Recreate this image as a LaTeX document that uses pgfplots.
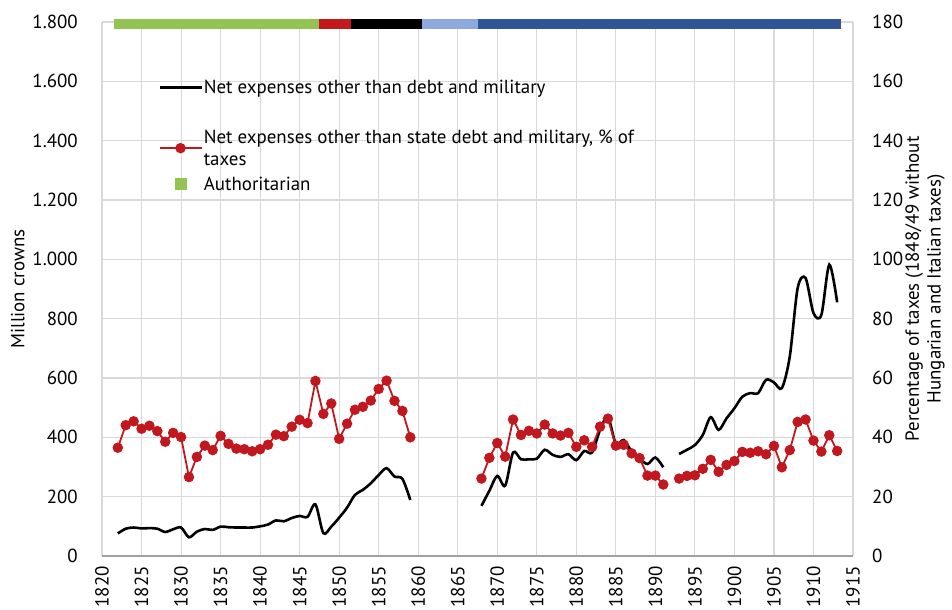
\documentclass[border=0pt]{standalone}
\usepackage{pgfplots}
\pgfplotsset{compat=1.18}
\usepackage{fontspec}
\setmainfont{PT Sans}

\definecolor{gridgray}{HTML}{D9D9D9}
\definecolor{axisgray}{HTML}{A0A0A0}
\definecolor{serred}{HTML}{C0181E}
\definecolor{autgreen}{HTML}{92C353}
\definecolor{barred}{HTML}{C3191C}
\definecolor{lblue}{HTML}{8EA9DB}
\definecolor{dblue}{HTML}{2F5597}

\newcommand\chartfont{\fontsize{19}{22}\selectfont}

\pgfplotsset{
  every axis/.append style={
    scale only axis, width=751bp, height=534bp,
    xmin=1820, xmax=1915,
    major tick length=0pt,
    /pgf/number format/assume math mode=true,
    tick label style={font=\chartfont},
    label style={font=\chartfont},
    unbounded coords=jump,
  },
}

\begin{document}
\begin{tikzpicture}

% left axis: million crowns
\begin{axis}[
  ymin=0, ymax=1800,
  ytick={0,200,...,1800},
  xtick={1820,1825,...,1915},
  grid=major,
  grid style={gridgray, line width=1.1bp},
  axis x line*=bottom, axis y line*=left,
  x axis line style={axisgray, line width=2bp, -},
  y axis line style={draw=none},
  x tick label style={rotate=90, anchor=east, inner xsep=10bp,
    /pgf/number format/1000 sep={}},
  y tick label style={inner xsep=24bp, /pgf/number format/1000 sep={.}},
  ylabel={Million crowns},
  ylabel style={at={(axis description cs:-0.112,0.5)}, anchor=center},
  clip=false,
]
% regime bar on top
\addplot[draw=none, fill=autgreen, forget plot] coordinates {(1821.5,1775) (1847.5,1775) (1847.5,1811) (1821.5,1811)};
\addplot[draw=none, fill=barred, forget plot] coordinates {(1847.5,1775) (1851.5,1775) (1851.5,1811) (1847.5,1811)};
\addplot[draw=none, fill=black, forget plot] coordinates {(1851.5,1775) (1860.5,1775) (1860.5,1811) (1851.5,1811)};
\addplot[draw=none, fill=lblue, forget plot] coordinates {(1860.5,1775) (1867.5,1775) (1867.5,1811) (1860.5,1811)};
\addplot[draw=none, fill=dblue, forget plot] coordinates {(1867.5,1775) (1913.5,1775) (1913.5,1811) (1867.5,1811)};

% net expenses, million crowns
\addplot[black, line width=2.6bp, smooth, tension=0.5] coordinates {
(1822,76) (1823,92) (1824,96) (1825,93) (1826,94) (1827,92) (1828,81) (1829,90)
(1830,96) (1831,63) (1832,82) (1833,91) (1834,88) (1835,99) (1836,97) (1837,96)
(1838,96) (1839,96) (1840,100) (1841,106) (1842,120) (1843,117) (1844,128)
(1845,135) (1846,132) (1847,174) (1848,77) (1849,99) (1850,129) (1851,163)
(1852,206) (1853,223) (1854,245) (1855,273) (1856,296) (1857,268) (1858,260)
(1859,189) (1860,nan)
(1868,169) (1869,220) (1870,270) (1871,237) (1872,349) (1873,326) (1874,326)
(1875,328) (1876,358) (1877,341) (1878,334) (1879,343) (1880,323) (1881,354)
(1882,349) (1883,425) (1884,468) (1885,378) (1886,391) (1887,352) (1888,329)
(1889,310) (1890,332) (1891,299) (1892,nan)
(1893,344) (1894,358) (1895,374) (1896,408) (1897,468) (1898,425) (1899,464)
(1900,498) (1901,537) (1902,549) (1903,549) (1904,594) (1905,585) (1906,566)
(1907,672) (1908,903) (1909,937) (1910,819) (1911,813) (1912,982) (1913,855)
};
\end{axis}

% right axis: percentage of taxes
\begin{axis}[
  ymin=0, ymax=180,
  ytick={0,20,...,180},
  axis y line*=right, axis x line=none,
  y axis line style={draw=none},
  y tick label style={inner xsep=19bp},
  ylabel={Percentage of taxes (1848/49 without\\Hungarian and Italian taxes)},
  ylabel style={at={(axis description cs:1.096,0.5)}, anchor=center, align=center},
  legend style={at={(axis description cs:0.0746,0.8936)}, anchor=north west,
    draw=none, fill=none, inner sep=0pt, row sep=8bp,
    nodes={inner sep=1bp},
    cells={anchor=west, align=left}, font=\chartfont},
  legend image code/.code={\draw[mark repeat=2,mark phase=2,#1]
    plot coordinates {(0bp,0bp) (21bp,0bp) (42bp,0bp)};},
]
\addlegendimage{black, line width=2.6bp}
\addlegendentry{Net expenses other than debt and military}
\addlegendimage{empty legend}
\addlegendentry{\phantom{X}}

\addplot[serred, line width=1.8bp, mark=*, mark size=4.3bp, mark options={solid, fill=serred}] coordinates {
(1822,36.5) (1823,44.1) (1824,45.4) (1825,42.9) (1826,43.9) (1827,42.1) (1828,38.5)
(1829,41.5) (1830,40.1) (1831,26.6) (1832,33.4) (1833,37.2) (1834,35.7) (1835,40.5)
(1836,37.8) (1837,36.2) (1838,36.0) (1839,35.3) (1840,36.0) (1841,37.5) (1842,40.9)
(1843,40.4) (1844,43.6) (1845,45.9) (1846,44.8) (1847,59.0) (1848,47.9) (1849,51.4)
(1850,39.5) (1851,44.6) (1852,49.3) (1853,50.3) (1854,52.4) (1855,56.3) (1856,59.1)
(1857,52.3) (1858,48.9) (1859,40.0) (1860,nan)
(1868,26.1) (1869,33.1) (1870,38.1) (1871,33.5) (1872,46.0) (1873,40.8) (1874,42.2)
(1875,41.3) (1876,44.3) (1877,41.3) (1878,40.6) (1879,41.5) (1880,36.8) (1881,39.0)
(1882,36.8) (1883,43.6) (1884,46.3) (1885,37.2) (1886,37.5) (1887,34.6) (1888,33.0)
(1889,27.1) (1890,27.1) (1891,24.1) (1892,nan)
(1893,26.1) (1894,27.0) (1895,27.2) (1896,29.4) (1897,32.4) (1898,28.4) (1899,30.7)
(1900,32.0) (1901,35.1) (1902,34.8) (1903,35.3) (1904,34.3) (1905,37.1) (1906,29.9)
(1907,35.7) (1908,45.2) (1909,46.0) (1910,38.9) (1911,35.2) (1912,40.7) (1913,35.4)
};
\addlegendentry{Net expenses other than state debt and military, \% of\\taxes}

\addlegendimage{only marks, mark=square*, mark size=5.5bp, autgreen}
\addlegendentry{Authoritarian}
\end{axis}

\pgfresetboundingbox
\useasboundingbox (-102bp,-54bp) rectangle (850bp,556bp);
\end{tikzpicture}
\end{document}
